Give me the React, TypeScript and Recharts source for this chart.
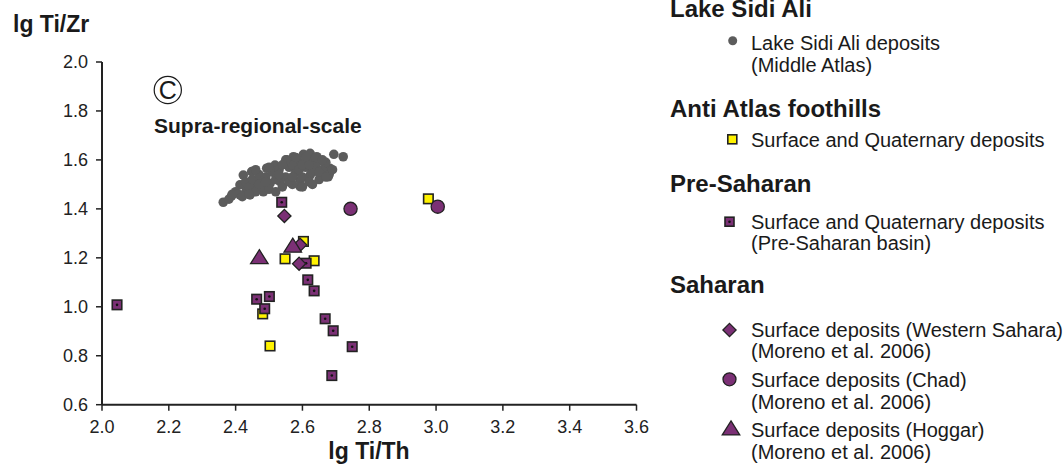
import { ScatterChart, Scatter, XAxis, YAxis, Customized } from 'recharts';

const FONT = "'Liberation Sans', Arial, sans-serif";
const PURPLE = '#7b3075';
const GREY = '#5c5c5c';
const YELLOW = '#fff200';
const EDGE = '#222';

const xTicks = [2.0, 2.2, 2.4, 2.6, 2.8, 3.0, 3.2, 3.4, 3.6];
const yTicks = [0.6, 0.8, 1.0, 1.2, 1.4, 1.6, 1.8, 2.0];

// lg Ti/Th, lg Ti/Zr
const lakeSidiAli = [
  [2.363, 1.427], [2.388, 1.453], [2.413, 1.498], [2.423, 1.538], [2.448, 1.552],
  [2.433, 1.477], [2.453, 1.491], [2.473, 1.511], [2.493, 1.566], [2.518, 1.579],
  [2.553, 1.600], [2.573, 1.613], [2.603, 1.623], [2.623, 1.627], [2.643, 1.613],
  [2.662, 1.593], [2.682, 1.566], [2.677, 1.531], [2.652, 1.545], [2.623, 1.538],
  [2.593, 1.518], [2.593, 1.491], [2.563, 1.525], [2.533, 1.511], [2.503, 1.504],
  [2.483, 1.470], [2.443, 1.457], [2.413, 1.457], [2.694, 1.623], [2.722, 1.613],
  [2.38, 1.44], [2.40, 1.47], [2.42, 1.45], [2.43, 1.51], [2.44, 1.49],
  [2.45, 1.52], [2.46, 1.47], [2.47, 1.54], [2.48, 1.49], [2.49, 1.53],
  [2.50, 1.48], [2.51, 1.55], [2.52, 1.52], [2.53, 1.56], [2.54, 1.49],
  [2.55, 1.53], [2.56, 1.57], [2.57, 1.50], [2.58, 1.55], [2.59, 1.59],
  [2.60, 1.53], [2.61, 1.57], [2.62, 1.60], [2.63, 1.55], [2.64, 1.58],
  [2.65, 1.52], [2.66, 1.56], [2.67, 1.59], [2.68, 1.54], [2.62, 1.51],
  [2.60, 1.49], [2.57, 1.58], [2.55, 1.60], [2.64, 1.61], [2.58, 1.61],
  [2.61, 1.61], [2.66, 1.60], [2.50, 1.57], [2.47, 1.50], [2.44, 1.46],
  [2.39, 1.46], [2.52, 1.47], [2.56, 1.51], [2.63, 1.50], [2.69, 1.56],
  [2.65, 1.55], [2.59, 1.56], [2.54, 1.58], [2.49, 1.51], [2.46, 1.56],
  [2.53, 1.54], [2.57, 1.53], [2.60, 1.58], [2.67, 1.53], [2.62, 1.58],
];

const antiAtlas = [
  [2.603, 1.267], [2.548, 1.196], [2.635, 1.188], [2.481, 0.971], [2.503, 0.840], [2.977, 1.441],
];

const preSaharan = [
  [2.045, 1.008], [2.538, 1.427], [2.611, 1.178], [2.616, 1.110], [2.635, 1.065], [2.501, 1.042],
  [2.463, 1.031], [2.487, 0.992], [2.668, 0.951], [2.692, 0.902], [2.749, 0.837], [2.688, 0.719],
];

const westernSahara = [[2.546, 1.371], [2.593, 1.253], [2.590, 1.176]];
const chad = [[2.744, 1.400], [3.005, 1.409]];
const hoggar = [[2.571, 1.246], [2.471, 1.199]];

const toPoints = (arr: number[][]) => arr.map(([x, y]) => ({ x, y }));

const dot = (cx: number, cy: number, r = 4.8) => <circle cx={cx} cy={cy} r={r} fill={GREY} />;
const yellowSq = (cx: number, cy: number, s = 9.5) => (
  <rect x={cx - s / 2} y={cy - s / 2} width={s} height={s} fill={YELLOW} stroke={EDGE} strokeWidth={1.6} />
);
const purpleSq = (cx: number, cy: number, s = 9.5) => (
  <g>
    <rect x={cx - s / 2} y={cy - s / 2} width={s} height={s} fill={PURPLE} stroke={EDGE} strokeWidth={1.6} />
    <circle cx={cx} cy={cy} r={1.3} fill="#111" />
  </g>
);
const diamond = (cx: number, cy: number, h = 6.6) => (
  <polygon
    points={`${cx},${cy - h} ${cx + h},${cy} ${cx},${cy + h} ${cx - h},${cy}`}
    fill={PURPLE}
    stroke={EDGE}
    strokeWidth={1.3}
  />
);
const circ = (cx: number, cy: number, r = 6.6) => (
  <circle cx={cx} cy={cy} r={r} fill={PURPLE} stroke={EDGE} strokeWidth={1.3} />
);
const tri = (cx: number, cy: number, w = 17.5, h = 14) => (
  <polygon
    points={`${cx},${cy - h * 0.6} ${cx + w / 2},${cy + h * 0.4} ${cx - w / 2},${cy + h * 0.4}`}
    fill={PURPLE}
    stroke={EDGE}
    strokeWidth={1.3}
  />
);

const shapeOf = (fn: (cx: number, cy: number) => any) => (props: any) => fn(props.cx, props.cy);

const Annotations = () => {
  const head = { fontFamily: FONT, fontSize: 24, fontWeight: 700, fill: '#1a1a1a' };
  const item = { fontFamily: FONT, fontSize: 20, fill: '#1a1a1a' };
  const tx = 751;
  return (
    <g>
      <text x={13} y={31.5} style={{ fontFamily: FONT, fontSize: 23, fontWeight: 700, fill: '#1a1a1a' }}>lg Ti/Zr</text>
      <text x={369} y={459} textAnchor="middle" style={{ fontFamily: FONT, fontSize: 23, fontWeight: 700, fill: '#1a1a1a' }}>lg Ti/Th</text>
      <circle cx={167.8} cy={90} r={13.6} fill="none" stroke="#1a1a1a" strokeWidth={1.2} />
      <text x={167.8} y={99} textAnchor="middle" style={{ fontFamily: FONT, fontSize: 25, fill: '#1a1a1a' }}>C</text>
      <text x={154} y={133} style={{ fontFamily: FONT, fontSize: 21, fontWeight: 700, fill: '#1a1a1a' }}>Supra-regional-scale</text>

      <text x={670} y={17} style={head}>Lake Sidi Ali</text>
      {dot(732.7, 40.7, 4.5)}
      <text x={tx} y={50} style={item}>Lake Sidi Ali deposits</text>
      <text x={tx} y={72} style={item}>(Middle Atlas)</text>

      <text x={670} y={117} style={head}>Anti Atlas foothills</text>
      {yellowSq(732.3, 139.3, 9)}
      <text x={tx} y={147} style={item}>Surface and Quaternary deposits</text>

      <text x={670} y={192} style={head}>Pre-Saharan</text>
      {purpleSq(729.5, 221.7, 9)}
      <text x={tx} y={228.5} style={item}>Surface and Quaternary deposits</text>
      <text x={tx} y={250} style={item}>(Pre-Saharan basin)</text>

      <text x={670} y={293} style={head}>Saharan</text>
      {diamond(729.5, 330, 6.6)}
      <text x={tx} y={337} style={item}>Surface deposits (Western Sahara)</text>
      <text x={tx} y={358} style={item}>(Moreno et al. 2006)</text>
      {circ(729.5, 379.3, 6.5)}
      <text x={tx} y={387} style={item}>Surface deposits (Chad)</text>
      <text x={tx} y={408.5} style={item}>(Moreno et al. 2006)</text>
      {tri(731, 429.3, 17.5, 14)}
      <text x={tx} y={437} style={item}>Surface deposits (Hoggar)</text>
      <text x={tx} y={458.5} style={item}>(Moreno et al. 2006)</text>
    </g>
  );
};

export default function App() {
  const tickStyle = { fill: '#222', fontSize: 18, fontFamily: FONT };
  return (
    <div style={{ position: 'absolute', left: 0, top: 0, background: '#fff' }}>
      <ScatterChart width={1063} height={469} margin={{ top: 62, right: 426.5, bottom: 24.3, left: 42 }}>
        <XAxis
          type="number"
          dataKey="x"
          domain={[2.0, 3.6]}
          ticks={xTicks}
          allowDataOverflow
          height={40}
          tickSize={6}
          tickMargin={10}
          tickFormatter={(v: number) => v.toFixed(1)}
          tick={tickStyle}
          axisLine={{ stroke: EDGE, strokeWidth: 2 }}
          tickLine={{ stroke: EDGE, strokeWidth: 1.5 }}
        />
        <YAxis
          type="number"
          dataKey="y"
          domain={[0.6, 2.0]}
          ticks={yTicks}
          allowDataOverflow
          width={60}
          tickSize={6}
          tickMargin={8}
          tickFormatter={(v: number) => v.toFixed(1)}
          tick={tickStyle}
          axisLine={{ stroke: EDGE, strokeWidth: 2 }}
          tickLine={{ stroke: EDGE, strokeWidth: 1.5 }}
        />
        <Scatter name="Lake Sidi Ali deposits" data={toPoints(lakeSidiAli)} shape={shapeOf((x, y) => dot(x, y))} isAnimationActive={false} />
        <Scatter name="Anti Atlas foothills" data={toPoints(antiAtlas)} shape={shapeOf((x, y) => yellowSq(x, y))} isAnimationActive={false} />
        <Scatter name="Pre-Saharan" data={toPoints(preSaharan)} shape={shapeOf((x, y) => purpleSq(x, y))} isAnimationActive={false} />
        <Scatter name="Western Sahara" data={toPoints(westernSahara)} shape={shapeOf((x, y) => diamond(x, y))} isAnimationActive={false} />
        <Scatter name="Chad" data={toPoints(chad)} shape={shapeOf((x, y) => circ(x, y))} isAnimationActive={false} />
        <Scatter name="Hoggar" data={toPoints(hoggar)} shape={shapeOf((x, y) => tri(x, y))} isAnimationActive={false} />
        <Customized component={Annotations} />
      </ScatterChart>
    </div>
  );
}
